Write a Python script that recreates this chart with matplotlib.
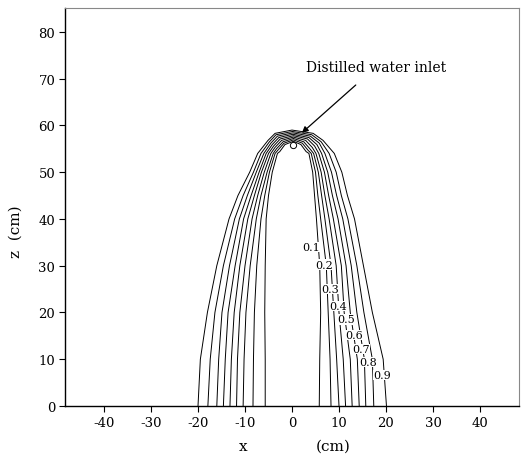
import matplotlib
matplotlib.use("Agg")
import matplotlib.pyplot as plt

# contour levels (inner -> outer)
levels = ["0.1", "0.2", "0.3", "0.4", "0.5", "0.6", "0.7", "0.8", "0.9"]

# heights at which side positions were read
z_side = [0, 10, 20, 30, 40, 45, 50, 54]

# left-side x positions of each contour at z_side heights
left_z0 = [-5.7, -8.3, -10.4, -11.8, -13.2, -14.6, -16.0, -17.9, -20.0]
left_z10 = [-5.7, -8.2, -10.2, -11.6, -12.9, -14.2, -15.6, -17.4, -19.5]
left_z20 = [-5.8, -8.0, -9.8, -11.1, -12.3, -13.6, -14.9, -16.4, -18.0]
left_z30 = [-5.7, -7.5, -8.9, -10.0, -11.1, -12.1, -13.3, -14.6, -16.0]
left_z40 = [-5.5, -6.6, -7.6, -8.5, -9.4, -10.3, -11.2, -12.2, -13.4]
left_z45 = [-5.0, -5.8, -6.6, -7.3, -8.0, -8.7, -9.5, -10.4, -11.5]
left_z50 = [-4.2, -4.8, -5.3, -5.9, -6.5, -7.0, -7.6, -8.2, -9.0]
left_z54 = [-3.1, -3.6, -4.0, -4.5, -5.0, -5.5, -6.0, -6.6, -7.3]

# right-side x positions of each contour at z_side heights
right_z0 = [5.8, 8.3, 10.0, 11.4, 12.8, 14.3, 15.7, 17.4, 20.1]
right_z10 = [5.9, 8.1, 9.5, 10.9, 12.4, 13.9, 15.4, 17.1, 19.4]
right_z20 = [6.1, 7.7, 8.9, 10.0, 11.1, 12.4, 13.8, 15.3, 17.1]
right_z30 = [5.9, 7.3, 8.3, 9.4, 10.5, 11.5, 12.6, 13.8, 15.2]
right_z40 = [5.2, 6.1, 7.0, 7.9, 8.8, 9.8, 10.8, 11.9, 13.3]
right_z45 = [4.8, 5.5, 6.3, 7.0, 7.8, 8.6, 9.5, 10.5, 11.8]
right_z50 = [4.4, 5.0, 5.6, 6.2, 6.9, 7.6, 8.4, 9.4, 10.6]
right_z54 = [3.6, 4.1, 4.6, 5.1, 5.7, 6.3, 7.0, 7.9, 9.0]

# top of each arch
apex_z = [56.6, 56.9, 57.2, 57.5, 57.8, 58.1, 58.4, 58.7, 59.0]
apex_x = [0.3, 0.3, 0.3, 0.3, 0.3, 0.2, 0.2, 0.1, 0.0]
# shoulders 2.2 below apex
sh1_left_x = [-2.6, -3.0, -3.3, -3.6, -3.9, -4.2, -4.5, -4.8, -5.1]
sh1_right_x = [3.0, 3.4, 3.8, 4.3, 4.8, 5.3, 5.8, 6.2, 6.6]
# shoulders 0.7 below apex
sh2_left_x = [-1.5, -1.7, -1.9, -2.2, -2.5, -2.8, -3.1, -3.4, -3.6]
sh2_right_x = [1.9, 2.2, 2.5, 2.9, 3.3, 3.6, 3.9, 4.2, 4.5]

# contour label positions (right side)
label_x = [4.0, 6.8, 8.2, 9.9, 11.5, 13.2, 14.6, 16.3, 19.1]
label_z = [34.0, 30.2, 25.0, 21.4, 18.5, 15.2, 12.2, 9.4, 6.6]

# inlet
inlet_x = [0.3]
inlet_z = [55.7]

xticks = [-40, -30, -20, -10, 0, 10, 20, 30, 40]
yticks = [0, 10, 20, 30, 40, 50, 60, 70, 80]

plt.rcParams["font.family"] = ["DejaVu Serif", "Liberation Serif"]

fig = plt.figure(figsize=(5.21, 4.64), dpi=100)
ax = fig.add_axes([65 / 521, 1 - 407 / 464, 454 / 521, 398 / 464])

lefts = [left_z0, left_z10, left_z20, left_z30, left_z40, left_z45, left_z50, left_z54]
rights = [right_z0, right_z10, right_z20, right_z30, right_z40, right_z45, right_z50, right_z54]

for i in range(len(levels)):
    xs = [row[i] for row in lefts]
    zs = list(z_side)
    xs += [sh1_left_x[i], sh2_left_x[i], apex_x[i], sh2_right_x[i], sh1_right_x[i]]
    zs += [apex_z[i] - 2.2, apex_z[i] - 0.7, apex_z[i], apex_z[i] - 0.7, apex_z[i] - 2.2]
    xs += [row[i] for row in reversed(rights)]
    zs += list(reversed(z_side))
    ax.plot(xs, zs, color="black", lw=0.7, zorder=2)

for lab, lx, lz in zip(levels, label_x, label_z):
    ax.text(lx, lz, lab, fontsize=8, ha="center", va="center", zorder=4,
            bbox=dict(facecolor="white", edgecolor="none", pad=0.2))

ax.plot(inlet_x, inlet_z, marker="o", ms=4.5, mfc="white", mec="black", mew=0.7,
        linestyle="none", zorder=5)

ax.annotate("Distilled water inlet", xy=(2.1, 58.4), xytext=(17.9, 72.5),
            ha="center", va="center", fontsize=10,
            arrowprops=dict(arrowstyle="-|>", color="black", lw=0.9,
                            mutation_scale=9, shrinkA=9, shrinkB=0))

ax.set_xlim(-48.3, 48.3)
ax.set_ylim(0, 85.1)
ax.set_xticks(xticks)
ax.set_yticks(yticks)
ax.set_xticklabels([str(v) for v in xticks])
ax.set_yticklabels([str(v) for v in yticks])
ax.tick_params(direction="out", length=4, width=0.8, labelsize=9.5, pad=3)

for side in ["left", "bottom"]:
    ax.spines[side].set_linewidth(1.0)
for side in ["top", "right"]:
    ax.spines[side].set_color("#888888")
    ax.spines[side].set_linewidth(0.8)

fig.text(243 / 521, 1 - 447 / 464, "x", fontsize=11, ha="center", va="center")
fig.text(333 / 521, 1 - 447 / 464, "(cm)", fontsize=11, ha="center", va="center")
fig.text(16 / 521, 1 - 232 / 464, "z  (cm)", fontsize=11, ha="center", va="center",
         rotation=90)

fig.savefig("out.png", dpi=100)
